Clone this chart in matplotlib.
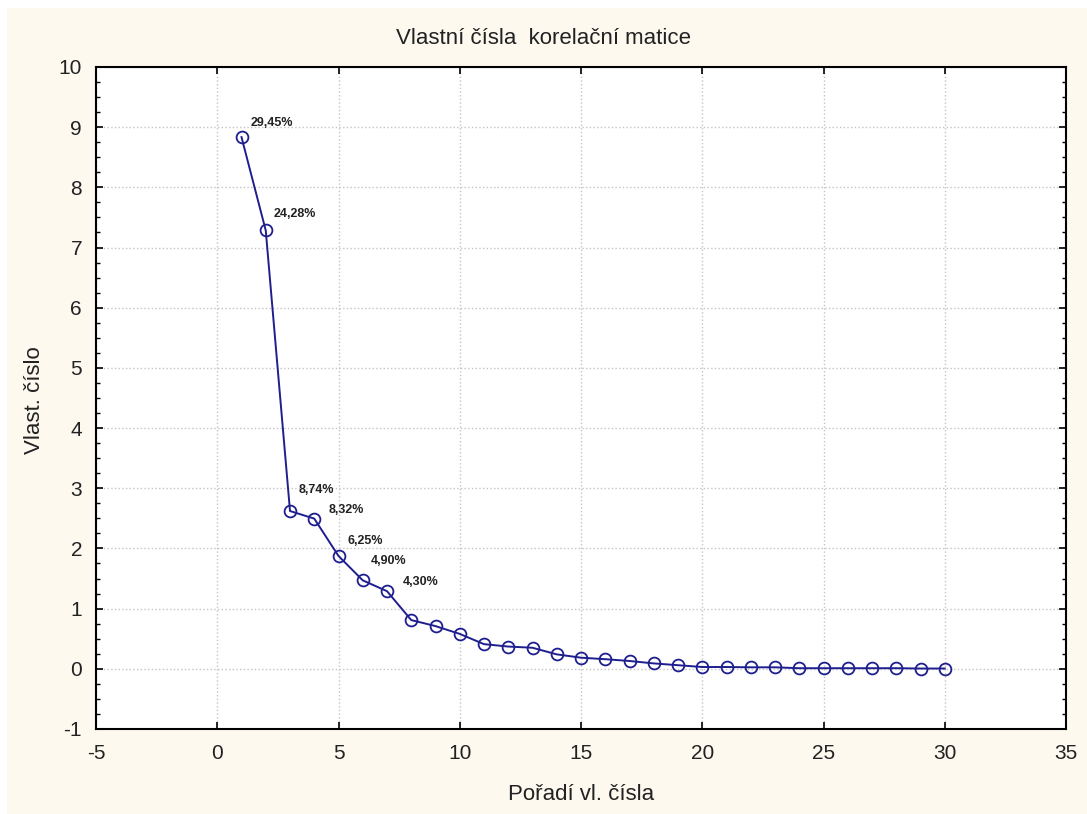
import matplotlib
matplotlib.use("Agg")
import matplotlib.pyplot as plt
import matplotlib.patches as patches
from matplotlib.ticker import MultipleLocator

plt.rcParams['font.family'] = ['Liberation Sans', 'DejaVu Sans']
plt.rcParams['axes.unicode_minus'] = False

# eigenvalues of the correlation matrix, in order
order = list(range(1, 31))
eigenvalues = [8.835, 7.284, 2.622, 2.496, 1.875, 1.47, 1.29, 0.81, 0.71, 0.58,
               0.41, 0.37, 0.35, 0.24, 0.185, 0.16, 0.13, 0.09, 0.06, 0.03,
               0.03, 0.025, 0.025, 0.01, 0.01, 0.01, 0.01, 0.01, 0.005, 0.005]
# explained variance labels for the first components
pct_labels = ["29,45%", "24,28%", "8,74%", "8,32%", "6,25%", "4,90%", "4,30%"]

title = "Vlastní čísla  korelační matice"
xlabel = "Pořadí vl. čísla"
ylabel = "Vlast. číslo"

# where each percentage label sits relative to its point (points)
label_offsets = [(6.5, 10), (6, 12), (6, 15), (10, 6), (6.5, 11), (6, 14),
                 (11.5, 6.5)]

W, H = 1087, 814
fig = plt.figure(figsize=(W / 100, H / 100), dpi=100, facecolor='white')
# cream backdrop, leaving a thin white strip at top and left
fig.patches.append(patches.Rectangle((7 / W, 0), 1, 1 - 8 / H,
                                     transform=fig.transFigure,
                                     facecolor='#fdf9ef', edgecolor='none',
                                     zorder=-10))

ax = fig.add_axes([96 / W, 1 - 729 / H, (1066 - 96) / W, (729 - 67) / H])
ax.set_facecolor('white')

line_color = '#1e1e8f'
ax.plot(order, eigenvalues, color=line_color, lw=1.4, marker='o', ms=8.5,
        mfc='none', mec=line_color, mew=1.3, zorder=3)

for i, lab in enumerate(pct_labels):
    ax.annotate(lab, (order[i], eigenvalues[i]), xytext=label_offsets[i],
                textcoords='offset points', ha='left', va='center',
                fontsize=9, fontweight='bold', color='#222222')

ax.set_xlim(-5, 35)
ax.set_ylim(-1, 10)
ax.xaxis.set_major_locator(MultipleLocator(5))
ax.yaxis.set_major_locator(MultipleLocator(1))
ax.yaxis.set_minor_locator(MultipleLocator(0.25))

ax.grid(True, which='major', color='#c4c4c4', linestyle=':', linewidth=1)
ax.set_axisbelow(True)

ax.tick_params(axis='both', which='both', direction='in', top=True, right=True,
               color='black')
ax.tick_params(axis='both', which='major', length=5, width=1.2,
               labelsize=15, labelcolor='#222222')
ax.tick_params(axis='x', which='major', pad=11)
ax.tick_params(axis='y', which='major', pad=10)
ax.tick_params(axis='y', which='minor', length=3, width=1)
for s in ax.spines.values():
    s.set_linewidth(1.5)
    s.set_color('black')

fig.text(0.5, 1 - 39 / H, title, ha='center', va='center', fontsize=16,
         color='#222222')
fig.text(581 / W, 1 - 794 / H, xlabel, ha='center', va='center', fontsize=16,
         color='#222222')
fig.text(34 / W, 1 - 400 / H, ylabel, ha='center', va='center', fontsize=16,
         rotation=90, color='#222222')

fig.savefig('out.png', dpi=100, facecolor=fig.get_facecolor())
